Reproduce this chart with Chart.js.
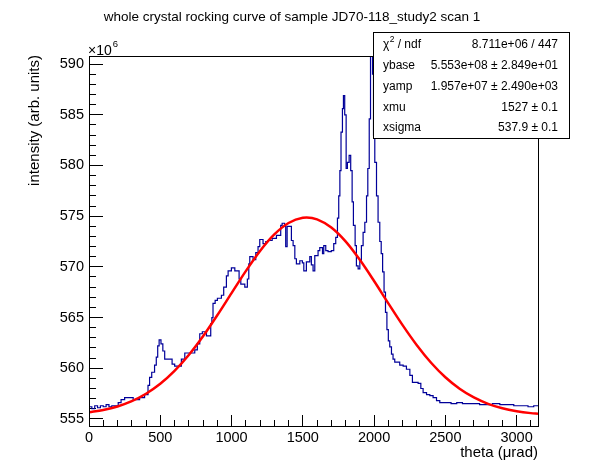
<!DOCTYPE html>
<html>
<head>
<meta charset="utf-8">
<script src="https://cdn.jsdelivr.net/npm/chart.js@4.4.1/dist/chart.umd.min.js"></script>
<style>
  html, body { margin: 0; padding: 0; background: #fff; }
  #wrap { width: 598px; height: 474px; }
</style>
</head>
<body>
<div id="wrap"><canvas id="rocking" width="598" height="474"></canvas></div>
<script>
// histogram: left edge of each step (urad) and its height (x10^6)
const thetaEdges = [0, 20, 40, 60, 80, 100, 120, 140, 160, 180, 205, 225, 250, 310, 355, 390, 414, 425, 440, 460,
  472, 482, 492, 505, 518, 531, 583, 601, 648, 672, 742, 760, 777, 795, 824, 854, 862, 870, 885, 901,
  929, 945, 964, 976, 999, 1023, 1053, 1065, 1093, 1111, 1121, 1128, 1151, 1170, 1186, 1198, 1221, 1240, 1256, 1285,
  1315, 1345, 1355, 1372, 1380, 1390, 1420, 1432, 1444, 1455, 1479, 1497, 1507, 1525, 1549, 1560, 1572, 1584, 1607, 1619,
  1638, 1647, 1661, 1677, 1700, 1717, 1731, 1743, 1752, 1760, 1768, 1778, 1785, 1794, 1804, 1813, 1825, 1836, 1846, 1855,
  1867, 1876, 1888, 1900, 1911, 1923, 1935, 1947, 1956, 1966, 1975, 1989, 1996, 2005, 2017, 2028, 2040, 2050, 2060, 2070,
  2080, 2090, 2100, 2110, 2122, 2133, 2145, 2180, 2204, 2227, 2251, 2269, 2309, 2328, 2344, 2368, 2391, 2414, 2438, 2461,
  2500, 2540, 2580, 2620, 2660, 2695, 2740, 2789, 2830, 2882, 2930, 2980, 3022, 3080, 3120, 3150];
const intensity = [556.2, 556.0, 556.3, 556.1, 556.3, 556.2, 556.4, 556.2, 556.3, 556.3, 556.6, 556.9, 557.1, 556.9, 557.1, 557.4, 558.3, 559.1, 559.6, 560.3,
  561.1, 562.2, 562.8, 562.4, 561.7, 560.9, 560.4, 560.2, 560.9, 561.5, 561.8, 562.4, 563.4, 563.6, 563.2, 564.4, 565.0, 566.4, 566.7, 566.9,
  567.2, 568.0, 569.1, 569.6, 569.9, 569.6, 568.8, 568.3, 568.0, 568.8, 570.3, 571.0, 570.7, 571.4, 572.0, 572.7, 572.3, 572.5, 572.6, 572.8,
  573.1, 574.1, 574.3, 574.0, 572.0, 574.0, 572.6, 572.1, 570.8, 570.3, 570.6, 570.4, 569.6, 570.5, 571.0, 570.2, 569.6, 571.1, 571.6, 571.9,
  571.3, 572.1, 571.6, 571.5, 571.6, 572.3, 572.9, 574.8, 577.0, 579.5, 583.3, 585.6, 586.9, 585.0, 579.7, 580.3, 581.0, 579.5, 576.4, 574.1,
  572.1, 570.1, 569.8, 570.6, 572.1, 573.4, 574.4, 577.0, 579.7, 584.6, 591.5, 589.0, 583.0, 580.3, 577.0, 574.4, 572.5, 571.3, 569.5, 567.5,
  565.5, 563.8, 562.7, 562.1, 561.4, 560.9, 560.6, 560.3, 560.2, 559.9, 559.3, 558.6, 558.5, 558.0, 557.6, 557.4, 557.3, 557.1, 556.8, 556.6,
  556.6, 556.5, 556.6, 556.5, 556.5, 556.5, 556.4, 556.4, 556.5, 556.4, 556.4, 556.3, 556.3, 556.2, 556.3, 556.3];

// gaussian fit curve points (red line)
const fitTheta = [0, 100, 200, 300, 400, 500, 600, 700, 800, 900, 1000, 1100, 1200, 1300, 1400, 1500, 1527, 1600,
  1700, 1800, 1900, 2000, 2100, 2200, 2300, 2400, 2500, 2600, 2700, 2800, 2900, 3000, 3100, 3150];
const fitValues = [555.65, 555.88, 556.23, 556.75, 557.48, 558.46, 559.73, 561.30, 563.15, 565.22, 567.41, 569.58, 571.57, 573.20, 574.33, 574.85, 574.87, 574.69,
  573.88, 572.51, 570.69, 568.60, 566.40, 564.25, 562.27, 560.54, 559.11, 557.98, 557.12, 556.49, 556.05, 555.76, 555.57, 555.51];

const xTickValues = [0, 500, 1000, 1500, 2000, 2500, 3000];
const yTickValues = [555, 560, 565, 570, 575, 580, 585, 590];
const xMinorTicks = [100, 200, 300, 400, 600, 700, 800, 900, 1100, 1200, 1300, 1400, 1600, 1700, 1800, 1900,
  2100, 2200, 2300, 2400, 2600, 2700, 2800, 2900, 3100];
const yMinorTicks = [556, 557, 558, 559, 561, 562, 563, 564, 566, 567, 568, 569, 571, 572, 573, 574,
  576, 577, 578, 579, 581, 582, 583, 584, 586, 587, 588, 589];

const chartTitle = "whole crystal rocking curve of sample JD70-118_study2 scan 1";
const xTitle = "theta (\u03bcrad)";
const yTitle = "intensity (arb. units)";
const statLabels = ["ndf", "ybase", "yamp", "xmu", "xsigma"];
const statValues = ["8.711e+06 / 447", "5.553e+08 \u00b1 2.849e+01", "1.957e+07 \u00b1 2.490e+03", "1527 \u00b1 0.1", "537.9 \u00b1 0.1"];

const FONT = "'Liberation Sans', Arial, Helvetica, sans-serif";
const X_MIN = 0, X_MAX = 3150, Y_MIN = 554.3, Y_MAX = 590.8;

// ROOT-like decorations: frame, titles, stats box
const rootStyle = {
  id: "rootStyle",
  afterDraw(chart) {
    const ctx = chart.ctx;
    const a = chart.chartArea;
    ctx.save();
    ctx.strokeStyle = "#000";
    ctx.lineWidth = 1;
    ctx.strokeRect(Math.round(a.left) + 0.5, Math.round(a.top) + 0.5, Math.round(a.width), Math.round(a.height));

    ctx.fillStyle = "#000";
    // title
    ctx.font = "13.5px " + FONT;
    ctx.textAlign = "center";
    ctx.textBaseline = "middle";
    ctx.fillText(chartTitle, 292, 17);

    // x title
    ctx.font = "15px " + FONT;
    ctx.textAlign = "right";
    ctx.fillText(xTitle, a.right, 453);

    // y title
    ctx.save();
    ctx.translate(35, a.top - 1);
    ctx.rotate(-Math.PI / 2);
    ctx.textAlign = "right";
    ctx.fillText(yTitle, 0, 0);
    ctx.restore();

    // exponent
    ctx.textAlign = "left";
    ctx.textBaseline = "alphabetic";
    ctx.font = "14px " + FONT;
    ctx.fillText("\u00d710", 88, 55);
    const w10 = ctx.measureText("\u00d710").width;
    ctx.font = "9.5px " + FONT;
    ctx.fillText("6", 88 + w10 + 1, 47);

    // stats box
    const bx = 373, by = 32, bw = 196, bh = 106;
    ctx.fillStyle = "#fff";
    ctx.fillRect(bx, by, bw, bh);
    ctx.strokeRect(bx + 0.5, by + 0.5, bw, bh);
    ctx.fillStyle = "#000";
    ctx.font = "12px " + FONT;
    ctx.textBaseline = "middle";
    const rowY = [45, 66, 87, 108, 128];
    statLabels.forEach((lab, i) => {
      ctx.textAlign = "left";
      if (i === 0) {
        ctx.fillText("\u03c7", 383, rowY[i]);
        const wc = ctx.measureText("\u03c7").width;
        ctx.font = "8.5px " + FONT;
        ctx.fillText("2", 383 + wc + 0.5, rowY[i] - 5);
        ctx.font = "12px " + FONT;
        ctx.fillText(" / " + lab, 383 + wc + 5, rowY[i]);
      } else {
        ctx.fillText(lab, 383, rowY[i]);
      }
      ctx.textAlign = "right";
      ctx.fillText(statValues[i], 558, rowY[i]);
    });
    ctx.restore();
  }
};

const histPoints = thetaEdges.map((t, i) => ({ x: t, y: intensity[i] }));
const fitPoints = fitTheta.map((t, i) => ({ x: t, y: fitValues[i] }));

// tick marks pointing into the plot (negative tick length), no grid lines
function innerTicks(len) {
  return { display: true, drawOnChartArea: false, drawTicks: true, tickLength: -len, color: "#000", tickColor: "#000", tickWidth: 1 };
}

new Chart(document.getElementById("rocking"), {
  type: "line",
  data: {
    datasets: [
      {
        data: fitPoints,
        borderColor: "#ff0000",
        borderWidth: 2.5,
        pointRadius: 0,
        cubicInterpolationMode: "monotone",
        fill: false,
        order: 1
      },
      {
        data: histPoints,
        borderColor: "#000099",
        borderWidth: 1.2,
        pointRadius: 0,
        stepped: "before",
        fill: false,
        order: 2
      }
    ]
  },
  options: {
    responsive: false,
    animation: false,
    layout: { padding: { top: 56, right: 60, left: 0, bottom: 0 } },
    plugins: { legend: { display: false }, tooltip: { enabled: false } },
    scales: {
      x: {
        type: "linear",
        position: "bottom",
        min: X_MIN,
        max: X_MAX,
        grid: innerTicks(11),
        border: { display: false },
        ticks: {
          color: "#000", font: { family: FONT, size: 14.5 }, padding: 14, maxRotation: 0, autoSkip: false,
          callback: (v) => String(v)
        },
        afterBuildTicks: (s) => { s.ticks = xTickValues.map((v) => ({ value: v })); },
        afterFit: (s) => { s.height = 48; }
      },
      y: {
        type: "linear",
        position: "left",
        min: Y_MIN,
        max: Y_MAX,
        grid: innerTicks(14),
        border: { display: false },
        ticks: {
          color: "#000", font: { family: FONT, size: 14.5 }, padding: 19, autoSkip: false,
          callback: (v) => String(v)
        },
        afterBuildTicks: (s) => { s.ticks = yTickValues.map((v) => ({ value: v })); },
        afterFit: (s) => { s.width = 89; }
      },
      xMinor: {
        type: "linear",
        axis: "x",
        position: { y: Y_MIN },
        min: X_MIN,
        max: X_MAX,
        grid: innerTicks(6),
        border: { display: false },
        ticks: { display: false },
        afterBuildTicks: (s) => { s.ticks = xMinorTicks.map((v) => ({ value: v })); },
        afterFit: (s) => { s.height = 0; }
      },
      yMinor: {
        type: "linear",
        axis: "y",
        position: { x: X_MIN },
        min: Y_MIN,
        max: Y_MAX,
        grid: innerTicks(7),
        border: { display: false },
        ticks: { display: false },
        afterBuildTicks: (s) => { s.ticks = yMinorTicks.map((v) => ({ value: v })); },
        afterFit: (s) => { s.width = 0; }
      }
    }
  },
  plugins: [rootStyle]
});
</script>
</body>
</html>
